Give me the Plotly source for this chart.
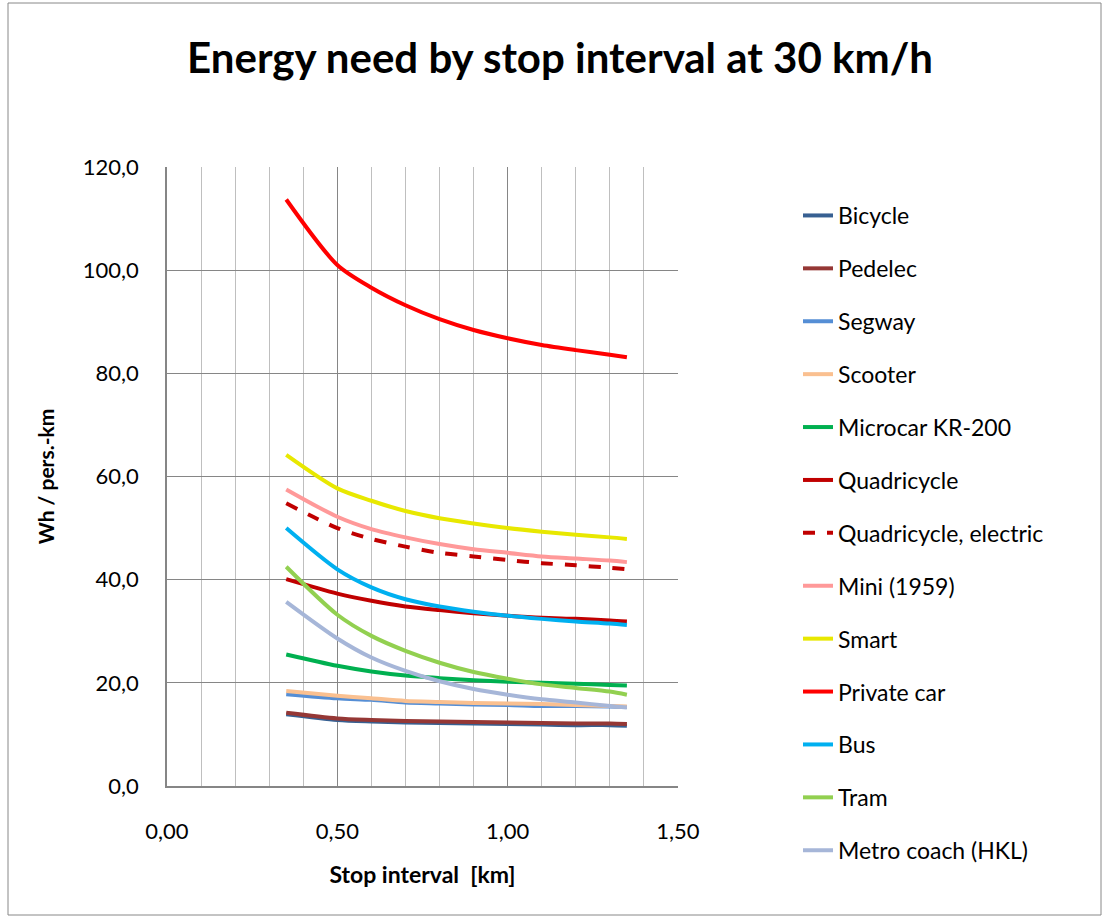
import plotly.graph_objects as go

stop_interval = [0.35, 0.5, 0.6, 0.7, 0.8, 0.9, 1.0, 1.1, 1.2, 1.3, 1.35]

bicycle = [13.9, 12.8, 12.5, 12.3, 12.2, 12.1, 12.0, 11.9, 11.8, 11.8, 11.7]
pedelec = [14.2, 13.1, 12.8, 12.6, 12.5, 12.4, 12.3, 12.2, 12.1, 12.1, 12.0]
segway = [17.8, 17.0, 16.7, 16.2, 16.0, 15.8, 15.7, 15.5, 15.5, 15.4, 15.3]
scooter = [18.4, 17.5, 17.0, 16.5, 16.3, 16.1, 16.0, 15.9, 15.7, 15.5, 15.4]
microcar = [25.5, 23.3, 22.2, 21.4, 20.9, 20.5, 20.2, 20.0, 19.8, 19.6, 19.5]
quadricycle = [40.1, 37.3, 35.9, 34.8, 34.1, 33.5, 33.0, 32.6, 32.4, 32.1, 31.9]
quadricycle_el = [54.8, 50.0, 47.9, 46.4, 45.2, 44.5, 43.8, 43.2, 42.8, 42.3, 42.0]
mini = [57.5, 52.2, 49.8, 48.2, 46.9, 45.9, 45.2, 44.5, 44.1, 43.7, 43.4]
smart = [64.2, 57.7, 55.3, 53.3, 51.9, 50.9, 50.0, 49.3, 48.7, 48.2, 47.9]
private_car = [113.7, 101.0, 96.6, 93.2, 90.5, 88.4, 86.8, 85.5, 84.5, 83.6, 83.1]
bus = [50.0, 42.0, 38.5, 36.2, 34.8, 33.8, 33.0, 32.4, 31.9, 31.5, 31.2]
tram = [42.5, 33.2, 29.1, 26.2, 23.9, 22.1, 20.8, 19.7, 19.0, 18.3, 17.7]
metro = [35.7, 28.6, 24.9, 22.3, 20.3, 18.8, 17.7, 16.8, 16.2, 15.5, 15.2]

series = [
    ("Bicycle", bicycle, "#376092", "solid"),
    ("Pedelec", pedelec, "#953735", "solid"),
    ("Segway", segway, "#558ED5", "solid"),
    ("Scooter", scooter, "#FAC090", "solid"),
    ("Microcar KR-200", microcar, "#00B050", "solid"),
    ("Quadricycle", quadricycle, "#C00000", "solid"),
    ("Quadricycle, electric", quadricycle_el, "#C00000", "dash"),
    ("Mini (1959)", mini, "#FF9999", "solid"),
    ("Smart", smart, "#E8E800", "solid"),
    ("Private car", private_car, "#FF0000", "solid"),
    ("Bus", bus, "#00B0F0", "solid"),
    ("Tram", tram, "#92D050", "solid"),
    ("Metro coach (HKL)", metro, "#A6B6D8", "solid"),
]

FONT = "Lato"
W, H = 1102, 916
L, R, T, B = 167, 424, 167, 130
PW, PH = W - L - R, H - T - B

fig = go.Figure()
for i, (name, vals, color, dash) in enumerate(series):
    fig.add_trace(go.Scatter(
        x=stop_interval, y=vals, name=name, mode="lines",
        line=dict(color=color, width=4, dash=dash, shape="spline", smoothing=0.8),
        legendgroup=f"g{i}",
    ))

fig.update_layout(
    width=W, height=H,
    margin=dict(l=L, r=R, t=T, b=B, autoexpand=False),
    paper_bgcolor="white", plot_bgcolor="white",
    separators=",.",
    font=dict(family=FONT, color="black"),
    title=dict(text="<b>Energy need by stop interval at 30 km/h</b>",
               font=dict(family=FONT, size=42, color="black"),
               x=560 / W, xanchor="center", xref="container",
               y=1 - 58 / H, yanchor="middle", yref="container"),
    showlegend=True,
    legend=dict(
        x=(798 - L) / PW, xanchor="left",
        y=1 - (194 - T) / PH, yanchor="top",
        font=dict(family=FONT, size=23, color="black"),
        tracegroupgap=20, itemwidth=30, maxheight=900,
        bgcolor="rgba(0,0,0,0)",
    ),
    xaxis=dict(
        range=[0, 1.5], dtick=0.5, tick0=0, tickformat=".2f",
        showgrid=True, gridcolor="#868686", gridwidth=1,
        minor=dict(dtick=0.1, showgrid=True, gridcolor="#bfbfbf", gridwidth=1),
        showline=True, linecolor="#868686", linewidth=1.5,
        ticks="", zeroline=False, ticklabelstandoff=25,
        tickfont=dict(family=FONT, size=22),
        title=dict(text="<b>Stop interval  [km]</b>", font=dict(family=FONT, size=23), standoff=24),
        fixedrange=True,
    ),
    yaxis=dict(
        range=[0, 120], dtick=20, tick0=0, tickformat=".1f",
        showgrid=True, gridcolor="#868686", gridwidth=1,
        showline=True, linecolor="#868686", linewidth=1.5,
        ticks="", zeroline=False, ticklabelstandoff=22,
        tickfont=dict(family=FONT, size=22),
        title=dict(text="<b>Wh / pers.-km</b>", font=dict(family=FONT, size=21), standoff=22),
        fixedrange=True,
    ),
)

# outer chart border
fig.add_shape(type="rect", xref="paper", yref="paper",
              x0=(8 - L) / PW, x1=(1101 - L) / PW,
              y0=(H - 915 - B) / PH, y1=(H - 3 - B) / PH,
              line=dict(color="#888888", width=1), layer="below")

fig.write_html("out.html")
